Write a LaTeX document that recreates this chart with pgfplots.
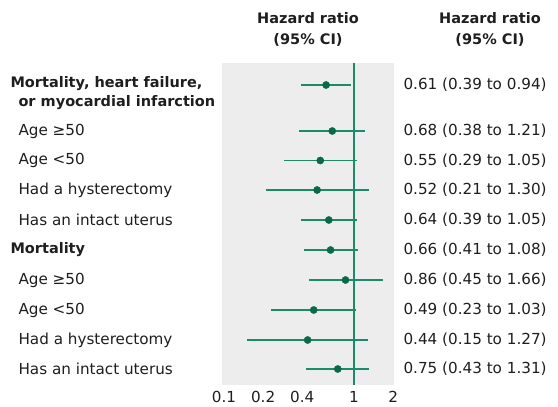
\documentclass[border=0pt]{standalone}
\usepackage{fontspec}
\setmainfont{DejaVu Sans}
\usepackage{pgfplots}
\pgfplotsset{compat=1.18}
\definecolor{ciline}{RGB}{25,140,105}
\definecolor{cimark}{RGB}{10,105,75}
\definecolor{bggray}{RGB}{237,237,237}
\definecolor{txt}{RGB}{30,30,30}
\newcommand{\rfont}{\fontsize{15.2}{18}\selectfont}
\newcommand{\bfont}{\fontsize{14.5}{17}\selectfont\bfseries}
\begin{document}
\begin{tikzpicture}[every node/.style={font=\rfont, text=txt}]
\useasboundingbox (0,0) rectangle (558pt,407pt);
\begin{axis}[
  at={(222pt,22pt)}, anchor=south west,
  scale only axis, width=172pt, height=322pt,
  xmode=log, xmin=0.0965, xmax=2.03,
  ymin=63, ymax=385, y dir=reverse,
  axis line style={draw=none},
  axis background/.style={fill=bggray},
  major tick length=0pt,
  xtick={0.1,0.2,0.4,1,2},
  xticklabels={0.1,0.2,0.4,1,2},
  ytick=\empty,
  /pgf/number format/assume math mode=true,
  xticklabel style={font=\rfont, text=txt, yshift=-3pt},
  clip=false,
]
\addplot[ciline, line width=1.2pt] coordinates {(1,63) (1,385)};
\addplot[ciline, line width=1.6pt] coordinates {(0.39,85) (0.94,85)};
\addplot[ciline, line width=1.6pt] coordinates {(0.38,131) (1.21,131)};
\addplot[ciline, line width=1.6pt] coordinates {(0.29,160.5) (1.05,160.5)};
\addplot[ciline, line width=1.6pt] coordinates {(0.21,190) (1.30,190)};
\addplot[ciline, line width=1.6pt] coordinates {(0.39,220) (1.05,220)};
\addplot[ciline, line width=1.6pt] coordinates {(0.41,250) (1.08,250)};
\addplot[ciline, line width=1.6pt] coordinates {(0.45,280) (1.66,280)};
\addplot[ciline, line width=1.6pt] coordinates {(0.23,310) (1.03,310)};
\addplot[ciline, line width=1.6pt] coordinates {(0.15,340) (1.27,340)};
\addplot[ciline, line width=1.6pt] coordinates {(0.43,369) (1.31,369)};
\addplot[only marks, mark=*, mark size=3.6pt, mark options={fill=cimark, draw=cimark}] coordinates {
(0.61,85) (0.68,131) (0.55,160.5) (0.52,190) (0.64,220)
(0.66,250) (0.86,280) (0.49,310) (0.44,340) (0.75,369)};
\end{axis}
% headers
\node[font=\bfont] at (308pt,389pt) {Hazard ratio};
\node[font=\bfont] at (308pt,367pt) {(95\% CI)};
\node[font=\bfont] at (490pt,389pt) {Hazard ratio};
\node[font=\bfont] at (490pt,367pt) {(95\% CI)};
% left labels
\node[anchor=west, font=\bfont] at (7pt,323pt) {Mortality, heart failure,};
\node[anchor=west, font=\bfont] at (15pt,304pt) {or myocardial infarction};
\node[anchor=west] at (15pt,276pt) {Age ≥50};
\node[anchor=west] at (15pt,246.5pt) {Age <50};
\node[anchor=west] at (15pt,217pt) {Had a hysterectomy};
\node[anchor=west] at (15pt,187pt) {Has an intact uterus};
\node[anchor=west, font=\bfont] at (7pt,157pt) {Mortality};
\node[anchor=west] at (15pt,127pt) {Age ≥50};
\node[anchor=west] at (15pt,97pt) {Age <50};
\node[anchor=west] at (15pt,67pt) {Had a hysterectomy};
\node[anchor=west] at (15pt,38pt) {Has an intact uterus};
% right labels
\node[anchor=west] at (400pt,322pt) {0.61 (0.39 to 0.94)};
\node[anchor=west] at (400pt,276pt) {0.68 (0.38 to 1.21)};
\node[anchor=west] at (400pt,246.5pt) {0.55 (0.29 to 1.05)};
\node[anchor=west] at (400pt,217pt) {0.52 (0.21 to 1.30)};
\node[anchor=west] at (400pt,187pt) {0.64 (0.39 to 1.05)};
\node[anchor=west] at (400pt,157pt) {0.66 (0.41 to 1.08)};
\node[anchor=west] at (400pt,127pt) {0.86 (0.45 to 1.66)};
\node[anchor=west] at (400pt,97pt) {0.49 (0.23 to 1.03)};
\node[anchor=west] at (400pt,67pt) {0.44 (0.15 to 1.27)};
\node[anchor=west] at (400pt,38pt) {0.75 (0.43 to 1.31)};
\end{tikzpicture}
\end{document}
